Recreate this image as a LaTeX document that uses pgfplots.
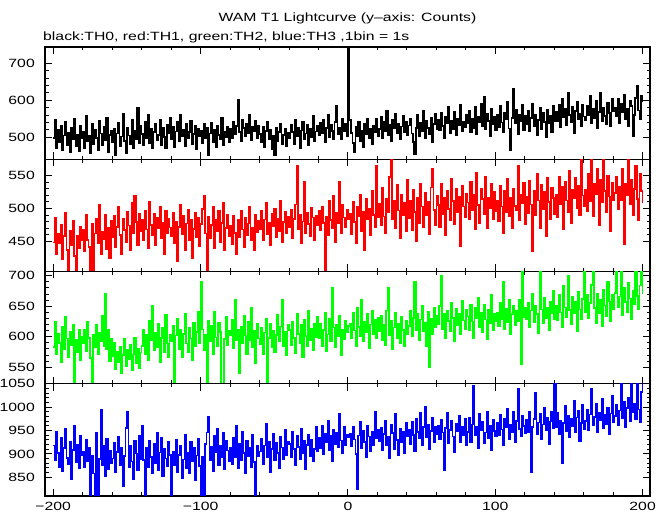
\documentclass[border=0pt]{standalone}
\usepackage{pgfplots}
\pgfplotsset{compat=1.18}
\usepackage{pgfplotstable}
\usepackage{fontspec}
\setmainfont{Liberation Sans}[FakeStretch=1.32]

\pgfplotstableread[row sep=\\]{y\\
498\\ 547\\ 472\\ 520\\ 488\\ 530\\ 465\\ 505\\ 541\\ 480\\ 512\\ 459\\ 526\\ 494\\ 550\\ 475\\ 508\\ 463\\ 532\\ 497\\
515\\ 470\\ 558\\ 489\\ 503\\ 456\\ 537\\ 482\\ 520\\ 499\\ 466\\ 545\\ 510\\ 478\\ 528\\ 492\\ 553\\ 461\\ 506\\ 518\\
487\\ 524\\ 451\\ 511\\ 539\\ 476\\ 502\\ 563\\ 490\\ 458\\ 527\\ 505\\ 481\\ 548\\ 470\\ 519\\ 496\\ 580\\ 484\\ 532\\
509\\ 478\\ 541\\ 497\\ 560\\ 485\\ 523\\ 470\\ 515\\ 538\\ 492\\ 507\\ 548\\ 479\\ 526\\ 501\\ 470\\ 533\\ 512\\ 554\\
495\\ 528\\ 474\\ 516\\ 542\\ 489\\ 560\\ 503\\ 521\\ 477\\ 536\\ 498\\ 515\\ 546\\ 482\\ 509\\ 530\\ 468\\ 524\\ 504\\
518\\ 484\\ 537\\ 499\\ 526\\ 452\\ 511\\ 540\\ 487\\ 520\\ 473\\ 531\\ 506\\ 495\\ 553\\ 478\\ 514\\ 500\\ 529\\ 488\\
522\\ 497\\ 541\\ 508\\ 530\\ 601\\ 515\\ 489\\ 547\\ 525\\ 502\\ 538\\ 511\\ 560\\ 493\\ 528\\ 517\\ 545\\ 499\\ 532\\
509\\ 486\\ 528\\ 474\\ 517\\ 541\\ 495\\ 520\\ 467\\ 503\\ 452\\ 526\\ 490\\ 514\\ 538\\ 481\\ 507\\ 523\\ 476\\ 512\\
498\\ 534\\ 515\\ 481\\ 547\\ 503\\ 526\\ 470\\ 519\\ 542\\ 495\\ 510\\ 533\\ 478\\ 524\\ 500\\ 557\\ 489\\ 516\\ 531\\
506\\ 539\\ 512\\ 548\\ 487\\ 525\\ 560\\ 501\\ 533\\ 518\\ 495\\ 542\\ 585\\ 509\\ 527\\ 494\\ 551\\ 516\\ 538\\ 503\\
1200\\
547\\ 512\\ 485\\ 460\\ 528\\ 503\\ 541\\ 490\\ 519\\ 473\\ 536\\ 508\\ 551\\ 497\\ 524\\ 481\\ 532\\ 515\\ 549\\ 502\\
523\\ 556\\ 498\\ 541\\ 517\\ 572\\ 505\\ 535\\ 489\\ 548\\ 526\\ 563\\ 510\\ 538\\ 494\\ 529\\ 557\\ 515\\ 543\\ 507\\
532\\ 550\\ 511\\ 488\\ 455\\ 526\\ 560\\ 503\\ 539\\ 518\\ 571\\ 497\\ 544\\ 525\\ 509\\ 553\\ 486\\ 536\\ 565\\ 521\\
548\\ 519\\ 566\\ 530\\ 497\\ 555\\ 538\\ 582\\ 512\\ 545\\ 523\\ 570\\ 506\\ 551\\ 534\\ 589\\ 517\\ 543\\ 528\\ 560\\
537\\ 571\\ 514\\ 549\\ 526\\ 583\\ 508\\ 555\\ 540\\ 592\\ 530\\ 610\\ 521\\ 563\\ 544\\ 502\\ 578\\ 535\\ 556\\ 519\\
562\\ 528\\ 585\\ 540\\ 513\\ 567\\ 549\\ 596\\ 524\\ 465\\ 553\\ 630\\ 537\\ 575\\ 508\\ 561\\ 544\\ 589\\ 520\\ 558\\
535\\ 572\\ 516\\ 553\\ 590\\ 529\\ 561\\ 507\\ 547\\ 580\\ 522\\ 566\\ 541\\ 501\\ 574\\ 538\\ 558\\ 515\\ 584\\ 545\\
569\\ 543\\ 588\\ 527\\ 604\\ 555\\ 578\\ 534\\ 620\\ 561\\ 540\\ 583\\ 512\\ 571\\ 597\\ 548\\ 565\\ 530\\ 589\\ 556\\
547\\ 585\\ 561\\ 612\\ 538\\ 577\\ 553\\ 598\\ 526\\ 569\\ 620\\ 544\\ 581\\ 557\\ 535\\ 594\\ 566\\ 529\\ 603\\ 572\\
581\\ 556\\ 604\\ 538\\ 592\\ 567\\ 615\\ 549\\ 576\\ 530\\ 598\\ 584\\ 502\\ 561\\ 607\\ 640\\ 573\\ 548\\ 612\\ 595\\
}\tabA

\pgfplotstableread[row sep=\\]{y\\
448\\ 486\\ 431\\ 462\\ 447\\ 475\\ 422\\ 458\\ 493\\ 437\\ 395\\ 466\\ 444\\ 481\\ 428\\ 398\\ 459\\ 439\\ 472\\ 451\\
468\\ 435\\ 490\\ 452\\ 441\\ 400\\ 476\\ 398\\ 462\\ 484\\ 447\\ 506\\ 430\\ 465\\ 453\\ 491\\ 438\\ 470\\ 424\\ 481\\
456\\ 489\\ 441\\ 472\\ 503\\ 460\\ 431\\ 485\\ 467\\ 448\\ 495\\ 474\\ 437\\ 509\\ 463\\ 520\\ 479\\ 444\\ 492\\ 466\\
482\\ 451\\ 497\\ 468\\ 439\\ 510\\ 475\\ 459\\ 492\\ 444\\ 486\\ 470\\ 503\\ 455\\ 478\\ 430\\ 496\\ 462\\ 484\\ 471\\
458\\ 493\\ 447\\ 480\\ 420\\ 472\\ 505\\ 461\\ 489\\ 436\\ 477\\ 498\\ 452\\ 483\\ 425\\ 469\\ 494\\ 457\\ 486\\ 442\\
476\\ 499\\ 520\\ 462\\ 401\\ 488\\ 455\\ 475\\ 503\\ 440\\ 482\\ 466\\ 497\\ 449\\ 478\\ 508\\ 437\\ 470\\ 491\\ 458\\
473\\ 445\\ 489\\ 463\\ 430\\ 482\\ 456\\ 497\\ 468\\ 441\\ 486\\ 459\\ 477\\ 502\\ 451\\ 470\\ 436\\ 490\\ 464\\ 481\\
468\\ 496\\ 452\\ 483\\ 509\\ 461\\ 478\\ 444\\ 492\\ 473\\ 500\\ 457\\ 485\\ 466\\ 512\\ 448\\ 479\\ 495\\ 463\\ 487\\
471\\ 498\\ 455\\ 484\\ 506\\ 565\\ 469\\ 491\\ 447\\ 480\\ 540\\ 463\\ 493\\ 476\\ 458\\ 501\\ 486\\ 452\\ 489\\ 474\\
496\\ 467\\ 503\\ 478\\ 401\\ 488\\ 459\\ 512\\ 482\\ 470\\ 519\\ 449\\ 493\\ 477\\ 540\\ 463\\ 505\\ 486\\ 471\\ 498\\
484\\
492\\ 461\\ 510\\ 479\\ 447\\ 503\\ 488\\ 521\\ 466\\ 495\\ 437\\ 514\\ 483\\ 500\\ 459\\ 527\\ 490\\ 472\\ 565\\ 486\\
507\\ 475\\ 531\\ 488\\ 462\\ 515\\ 494\\ 548\\ 580\\ 483\\ 512\\ 470\\ 536\\ 497\\ 455\\ 521\\ 489\\ 509\\ 466\\ 543\\
485\\ 512\\ 467\\ 528\\ 495\\ 450\\ 516\\ 478\\ 537\\ 503\\ 471\\ 524\\ 489\\ 510\\ 461\\ 532\\ 560\\ 498\\ 474\\ 519\\
505\\ 472\\ 538\\ 491\\ 516\\ 460\\ 527\\ 499\\ 482\\ 545\\ 511\\ 476\\ 530\\ 494\\ 518\\ 442\\ 534\\ 503\\ 487\\ 522\\
509\\ 484\\ 540\\ 497\\ 521\\ 469\\ 555\\ 505\\ 478\\ 530\\ 514\\ 492\\ 548\\ 470\\ 517\\ 501\\ 537\\ 483\\ 525\\ 496\\
512\\ 481\\ 534\\ 503\\ 462\\ 527\\ 495\\ 545\\ 488\\ 516\\ 470\\ 530\\ 504\\ 497\\ 565\\ 482\\ 521\\ 508\\ 539\\ 476\\
518\\ 493\\ 542\\ 506\\ 435\\ 527\\ 489\\ 553\\ 512\\ 470\\ 536\\ 499\\ 525\\ 458\\ 547\\ 510\\ 484\\ 531\\ 516\\ 492\\
521\\ 487\\ 549\\ 506\\ 533\\ 468\\ 540\\ 512\\ 495\\ 558\\ 478\\ 529\\ 515\\ 546\\ 501\\ 535\\ 490\\ 578\\ 520\\ 503\\
529\\ 496\\ 553\\ 511\\ 578\\ 488\\ 537\\ 521\\ 560\\ 474\\ 543\\ 509\\ 578\\ 527\\ 495\\ 550\\ 518\\ 466\\ 539\\ 512\\
524\\ 548\\ 499\\ 533\\ 512\\ 561\\ 445\\ 537\\ 520\\ 578\\ 506\\ 544\\ 489\\ 530\\ 565\\ 514\\ 482\\ 553\\ 527\\ 508\\
}\tabB

\pgfplotstableread[row sep=\\]{y\\
583\\ 624\\ 571\\ 605\\ 590\\ 558\\ 617\\ 579\\ 632\\ 597\\ 566\\ 608\\ 587\\ 620\\ 515\\ 595\\ 574\\ 611\\ 562\\ 600\\
589\\ 611\\ 576\\ 625\\ 598\\ 565\\ 518\\ 604\\ 583\\ 619\\ 571\\ 607\\ 592\\ 634\\ 585\\ 670\\ 579\\ 612\\ 560\\ 597\\
568\\ 590\\ 547\\ 575\\ 559\\ 584\\ 541\\ 570\\ 596\\ 552\\ 578\\ 563\\ 587\\ 545\\ 571\\ 599\\ 556\\ 580\\ 548\\ 574\\
585\\ 612\\ 571\\ 603\\ 562\\ 626\\ 594\\ 650\\ 578\\ 607\\ 583\\ 621\\ 559\\ 598\\ 615\\ 574\\ 636\\ 589\\ 566\\ 604\\
593\\ 618\\ 515\\ 602\\ 629\\ 580\\ 611\\ 567\\ 605\\ 638\\ 589\\ 574\\ 615\\ 597\\ 562\\ 623\\ 584\\ 608\\ 641\\ 590\\
690\\ 612\\ 578\\ 604\\ 515\\ 627\\ 593\\ 618\\ 572\\ 641\\ 599\\ 585\\ 623\\ 608\\ 518\\ 520\\ 596\\ 632\\ 587\\ 610\\
603\\ 628\\ 581\\ 660\\ 595\\ 612\\ 540\\ 617\\ 589\\ 635\\ 602\\ 571\\ 625\\ 594\\ 648\\ 583\\ 610\\ 556\\ 621\\ 597\\
588\\ 614\\ 571\\ 607\\ 629\\ 515\\ 598\\ 621\\ 583\\ 610\\ 574\\ 603\\ 636\\ 592\\ 617\\ 660\\ 585\\ 608\\ 569\\ 620\\
611\\ 586\\ 624\\ 598\\ 573\\ 637\\ 605\\ 590\\ 619\\ 567\\ 628\\ 601\\ 584\\ 642\\ 595\\ 613\\ 578\\ 621\\ 599\\ 633\\
598\\ 622\\ 585\\ 611\\ 640\\ 577\\ 604\\ 629\\ 592\\ 680\\ 615\\ 583\\ 620\\ 601\\ 634\\ 570\\ 612\\ 596\\ 627\\ 608\\
618\\
622\\ 597\\ 639\\ 610\\ 585\\ 648\\ 616\\ 601\\ 660\\ 593\\ 625\\ 608\\ 637\\ 582\\ 620\\ 643\\ 605\\ 628\\ 598\\ 631\\
609\\ 634\\ 595\\ 620\\ 586\\ 643\\ 680\\ 602\\ 627\\ 579\\ 615\\ 639\\ 598\\ 621\\ 590\\ 633\\ 611\\ 584\\ 626\\ 604\\
618\\ 642\\ 601\\ 631\\ 690\\ 611\\ 637\\ 594\\ 628\\ 650\\ 609\\ 623\\ 585\\ 641\\ 550\\ 629\\ 604\\ 647\\ 616\\ 635\\
621\\ 650\\ 700\\ 612\\ 637\\ 598\\ 643\\ 626\\ 609\\ 655\\ 631\\ 592\\ 646\\ 619\\ 638\\ 604\\ 659\\ 627\\ 613\\ 645\\
633\\ 610\\ 652\\ 625\\ 598\\ 647\\ 631\\ 664\\ 615\\ 640\\ 607\\ 653\\ 628\\ 596\\ 645\\ 622\\ 669\\ 611\\ 638\\ 626\\
640\\ 617\\ 655\\ 629\\ 690\\ 612\\ 646\\ 624\\ 661\\ 604\\ 637\\ 650\\ 619\\ 643\\ 626\\ 660\\ 555\\ 712\\ 632\\ 648\\
629\\ 656\\ 615\\ 643\\ 671\\ 624\\ 650\\ 637\\ 606\\ 712\\ 645\\ 622\\ 664\\ 631\\ 648\\ 610\\ 657\\ 639\\ 676\\ 628\\
651\\ 627\\ 668\\ 640\\ 615\\ 683\\ 648\\ 632\\ 700\\ 644\\ 621\\ 666\\ 638\\ 657\\ 609\\ 673\\ 645\\ 629\\ 662\\ 712\\
641\\ 668\\ 630\\ 655\\ 685\\ 712\\ 647\\ 622\\ 671\\ 639\\ 660\\ 618\\ 677\\ 651\\ 634\\ 690\\ 658\\ 626\\ 669\\ 645\\
672\\ 712\\ 648\\ 666\\ 712\\ 635\\ 681\\ 657\\ 640\\ 689\\ 663\\ 628\\ 676\\ 654\\ 712\\ 667\\ 645\\ 684\\ 712\\ 670\\
}\tabC

\pgfplotstableread[row sep=\\]{y\\
918\\ 886\\ 947\\ 902\\ 871\\ 935\\ 864\\ 912\\ 953\\ 891\\ 877\\ 926\\ 845\\ 908\\ 960\\ 883\\ 920\\ 869\\ 939\\ 897\\
905\\ 872\\ 931\\ 884\\ 914\\ 800\\ 897\\ 858\\ 800\\ 946\\ 800\\ 889\\ 995\\ 876\\ 918\\ 853\\ 932\\ 868\\ 907\\ 881\\
890\\ 923\\ 861\\ 904\\ 937\\ 875\\ 912\\ 830\\ 896\\ 955\\ 990\\ 872\\ 918\\ 884\\ 846\\ 927\\ 901\\ 865\\ 939\\ 888\\
960\\ 887\\ 800\\ 914\\ 871\\ 929\\ 893\\ 858\\ 921\\ 880\\ 945\\ 866\\ 903\\ 934\\ 852\\ 911\\ 890\\ 873\\ 926\\ 898\\
800\\ 905\\ 876\\ 930\\ 861\\ 898\\ 917\\ 849\\ 888\\ 941\\ 870\\ 903\\ 858\\ 926\\ 885\\ 912\\ 843\\ 897\\ 933\\ 874\\
800\\ 893\\ 800\\ 921\\ 946\\ 980\\ 887\\ 915\\ 862\\ 938\\ 903\\ 954\\ 875\\ 917\\ 892\\ 946\\ 868\\ 929\\ 907\\ 884\\
912\\ 878\\ 935\\ 893\\ 960\\ 869\\ 921\\ 886\\ 947\\ 902\\ 858\\ 928\\ 895\\ 914\\ 872\\ 941\\ 883\\ 800\\ 917\\ 896\\
905\\ 933\\ 879\\ 918\\ 965\\ 892\\ 926\\ 861\\ 911\\ 944\\ 887\\ 923\\ 902\\ 870\\ 936\\ 914\\ 889\\ 951\\ 898\\ 925\\
921\\ 893\\ 947\\ 910\\ 876\\ 938\\ 915\\ 889\\ 953\\ 902\\ 927\\ 868\\ 919\\ 941\\ 896\\ 930\\ 884\\ 911\\ 958\\ 906\\
934\\ 912\\ 961\\ 899\\ 943\\ 925\\ 970\\ 907\\ 938\\ 884\\ 952\\ 921\\ 946\\ 915\\ 985\\ 929\\ 902\\ 957\\ 918\\ 940\\
936\\
944\\ 917\\ 958\\ 931\\ 900\\ 825\\ 939\\ 968\\ 912\\ 950\\ 926\\ 893\\ 961\\ 937\\ 905\\ 948\\ 919\\ 990\\ 933\\ 952\\
928\\ 955\\ 907\\ 942\\ 970\\ 918\\ 936\\ 890\\ 962\\ 945\\ 911\\ 985\\ 930\\ 897\\ 953\\ 924\\ 948\\ 901\\ 967\\ 938\\
952\\ 921\\ 968\\ 940\\ 906\\ 975\\ 947\\ 933\\ 988\\ 918\\ 957\\ 1000\\ 936\\ 962\\ 911\\ 949\\ 977\\ 926\\ 958\\ 943\\
960\\ 931\\ 973\\ 946\\ 865\\ 955\\ 988\\ 922\\ 951\\ 970\\ 937\\ 903\\ 964\\ 949\\ 982\\ 925\\ 958\\ 941\\ 976\\ 918\\
947\\ 978\\ 926\\ 963\\ 1045\\ 939\\ 957\\ 912\\ 985\\ 951\\ 968\\ 923\\ 946\\ 991\\ 934\\ 960\\ 907\\ 972\\ 949\\ 938\\
966\\ 941\\ 983\\ 952\\ 918\\ 975\\ 958\\ 996\\ 931\\ 962\\ 947\\ 989\\ 925\\ 970\\ 1040\\ 953\\ 938\\ 981\\ 960\\ 944\\
972\\ 946\\ 991\\ 860\\ 958\\ 975\\ 1030\\ 942\\ 967\\ 985\\ 931\\ 963\\ 998\\ 950\\ 977\\ 921\\ 969\\ 990\\ 954\\ 1060\\
958\\ 987\\ 943\\ 971\\ 880\\ 966\\ 1002\\ 949\\ 982\\ 935\\ 974\\ 960\\ 1013\\ 947\\ 978\\ 992\\ 928\\ 966\\ 1005\\ 953\\
970\\ 995\\ 951\\ 984\\ 1040\\ 962\\ 979\\ 1008\\ 947\\ 988\\ 971\\ 1017\\ 955\\ 983\\ 964\\ 999\\ 942\\ 986\\ 1024\\ 968\\
981\\ 1004\\ 962\\ 993\\ 1060\\ 977\\ 1012\\ 958\\ 998\\ 1021\\ 970\\ 1060\\ 989\\ 1007\\ 975\\ 1060\\ 995\\ 968\\ 1033\\ 1060\\
}\tabD

\pgfplotsset{
  panel/.style={
    scale only axis, width=605bp, height=112.25bp,
    xmin=-205.6, xmax=205,
    anchor=south west,
    tick align=inside,
    xtick={-200,-100,0,100,200},
    minor x tick num=4, minor y tick num=4,
    major tick length=7bp, minor tick length=3.5bp,
    axis line style={line width=1.1bp},
    every tick/.style={black, line width=1bp},
    xticklabels={},
    /pgf/number format/assume math mode=true,
    /pgf/number format/1000 sep={},
    every tick label/.append style={font=\fontsize{12}{14}\selectfont, inner sep=0pt},
    yticklabel style={xshift=-10bp},
    xticklabel style={yshift=-6bp},
    clip=true,
  },
  curve/.style={const plot mark left, line width=1.6bp, mark=none, line join=miter, line cap=butt},
}

\begin{document}
\begin{tikzpicture}
\path[use as bounding box] (0bp,0bp) rectangle (669bp,515bp);
\node[anchor=base, font=\fontsize{12}{14}\selectfont, inner sep=0pt] at (347.5bp,493bp) {WAM T1 Lightcurve (y--axis: Counts)};
\node[anchor=base west, font=\fontsize{12}{14}\selectfont, inner sep=0pt] at (43bp,474bp) {black:TH0, red:TH1, green:TH2, blue:TH3 ,1bin = 1s};

\begin{axis}[panel, at={(45bp,355.75bp)}, ymin=441, ymax=744, ytick={500,600,700}]
\addplot[curve, color=black] table[x expr=\coordindex-200, y=y] {\tabA};
\end{axis}

\begin{axis}[panel, at={(45bp,243.5bp)}, ymin=404, ymax=575, ytick={450,500,550}]
\addplot[curve, color=red] table[x expr=\coordindex-200, y=y] {\tabB};
\end{axis}

\begin{axis}[panel, at={(45bp,131.25bp)}, ymin=523, ymax=707, ytick={550,600,650,700}]
\addplot[curve, color=green] table[x expr=\coordindex-200, y=y] {\tabC};
\end{axis}

\begin{axis}[panel, at={(45bp,19bp)}, ymin=810, ymax=1050, ytick={850,900,950,1000,1050},
  xticklabels={−200,−100,0,100,200}]
\addplot[curve, color=blue] table[x expr=\coordindex-200, y=y] {\tabD};
\end{axis}
\end{tikzpicture}
\end{document}
